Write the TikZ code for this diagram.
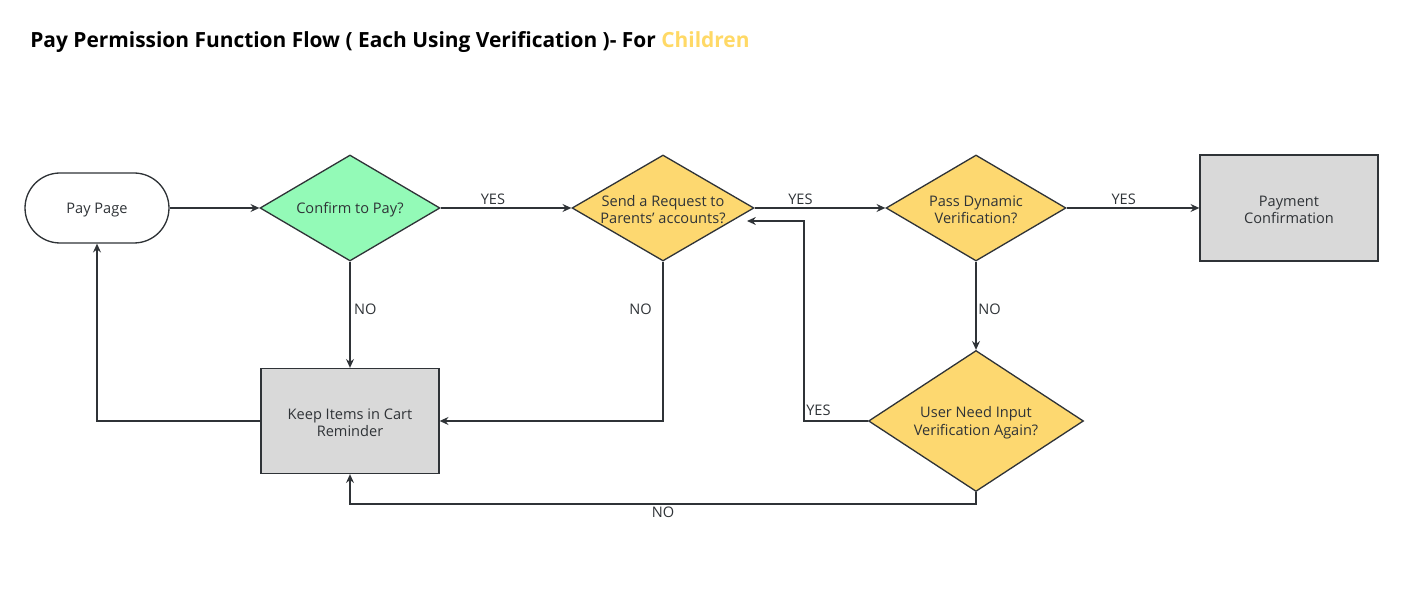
\documentclass[tikz,border=0pt]{standalone}
\usepackage{fontspec}
\setmainfont{Open Sans}
\usetikzlibrary{shapes.geometric,arrows.meta}
\definecolor{ink}{HTML}{2F3337}
\definecolor{grn}{HTML}{93FAB7}
\definecolor{ylw}{HTML}{FDD870}
\definecolor{gry}{HTML}{D9D9D9}
\definecolor{ttl}{HTML}{FFD966}
\tikzset{
  base/.style={draw=ink, line width=0.75pt, text=ink, font=\fontsize{8.3}{10}\selectfont, align=center, inner sep=0pt},
  dia/.style={base, shape=diamond, aspect=1.7},
  boxg/.style={base, rectangle, fill=gry, text depth=0pt, yshift=0pt},
  conn/.style={draw=ink, line width=0.75pt, -{Stealth[length=5pt,width=4.5pt]}},
  lbl/.style={text=ink, font=\fontsize{8.3}{10}\selectfont, inner sep=0pt},
  inlbl/.style={lbl, align=center, yshift=-1pt}
}
\begin{document}
\begin{tikzpicture}[x=0.02cm, y=-0.02cm]
\useasboundingbox (0,0) rectangle (1404,614);
\node[anchor=west, font=\bfseries\fontsize{11.9}{14}\selectfont, text=black, inner sep=0pt] (title) at (30,42.5)
  {Pay Permission Function Flow ( Each Using Verification )- For \textcolor{ttl}{Children}};
% nodes
\node[base, rectangle, rounded corners=0.7cm, minimum width=2.88cm, minimum height=1.4cm, fill=white] (pay) at (97,208) {};
\node[inlbl] at (pay.center) {Pay Page};
\node[dia, fill=grn, minimum width=3.6cm, minimum height=2.12cm, label={[inlbl]center:Confirm to Pay?}] (conf) at (350,208) {};
\node[dia, fill=ylw, minimum width=3.64cm, minimum height=2.12cm, label={[inlbl]center:Send a Request to\\Parents’ accounts?}] (send) at (663,208) {};
\node[dia, fill=ylw, minimum width=3.6cm, minimum height=2.12cm, label={[inlbl]center:Pass Dynamic\\Verification?}] (pass) at (976,208) {};
\node[boxg, minimum width=3.56cm, minimum height=2.12cm, label={[inlbl]center:Payment\\Confirmation}] (paym) at (1289,208) {};
\node[boxg, minimum width=3.56cm, minimum height=2.1cm, label={[inlbl]center:Keep Items in Cart\\Reminder}] (keep) at (350,421) {};
\node[dia, fill=ylw, minimum width=4.3cm, minimum height=2.82cm, label={[inlbl]center:User Need Input\\Verification Again?}] (user) at (976,421) {};
\coordinate (sendin) at (747,221);
% connectors
\draw[conn] (pay.east) -- (conf.west);
\draw[conn] (conf.east) -- node[lbl, above=1.5pt, pos=0.4] {YES} (send.west);
\draw[conn] (send.east) -- node[lbl, above=1.5pt, pos=0.35] {YES} (pass.west);
\draw[conn] (pass.east) -- node[lbl, above=1.5pt, pos=0.43] {YES} (paym.west);
\draw[conn] (conf.south) -- node[lbl, right=2pt, pos=0.45] {NO} (keep.north);
\draw[conn] (send.south) -- node[lbl, left=6pt, pos=0.3] {NO} (send.south |- keep.east) -- (keep.east);
\draw[conn] (pass.south) -- node[lbl, right=1pt, pos=0.54] {NO} (user.north);
\draw[conn] (user.west) -- ++(-64,0) coordinate (uturn) node[lbl, anchor=south west, xshift=1pt, yshift=2.5pt] {YES} -- (uturn |- sendin) -- (sendin);
\draw[conn] (user.south) -- ++(0,12) coordinate (bturn) -- node[lbl, below=1pt] {NO} (bturn -| keep.south) -- (keep.south);
\draw[conn] (keep.west) -- (keep.west -| pay.south) -- (pay.south);
\end{tikzpicture}
\end{document}
